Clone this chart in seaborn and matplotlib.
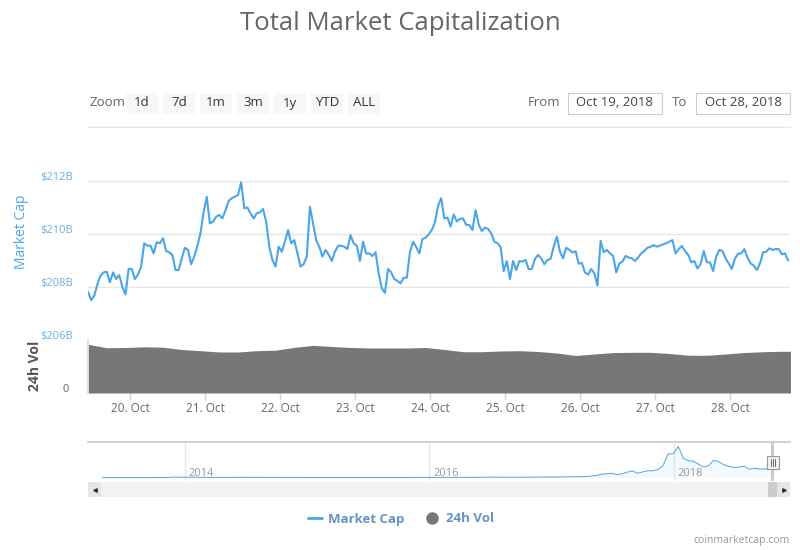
import numpy as np
import pandas as pd
import matplotlib
matplotlib.use("Agg")
import matplotlib.pyplot as plt
import seaborn as sns
from matplotlib.patches import Rectangle
from matplotlib.lines import Line2D
from matplotlib.transforms import ScaledTranslation

# total market cap, $B, hourly from 19 Oct 2018 10:34
market_cap = [
    207.82, 207.50, 207.67, 208.10, 208.43, 208.55, 208.58, 208.18, 208.55, 208.30,
    208.45, 208.00, 207.72, 208.68, 208.68, 208.30, 208.47, 208.77, 209.65, 209.56,
    209.56, 209.27, 209.69, 209.65, 209.84, 209.36, 209.31, 209.21, 208.64, 208.64,
    209.08, 209.48, 209.40, 208.86, 209.15, 209.56, 210.03, 210.84, 211.40, 210.40,
    210.47, 210.65, 210.72, 210.59, 210.90, 211.25, 211.35, 211.41, 211.47, 211.95,
    210.97, 211.00, 210.78, 210.59, 210.78, 210.82, 210.94, 210.47, 209.52, 209.02,
    208.77, 209.52, 209.33, 209.71, 210.15, 209.65, 209.77, 209.27, 208.77, 208.86,
    209.15, 211.03, 210.40, 209.77, 209.52, 209.15, 209.40, 209.22, 208.98, 209.33,
    209.55, 209.56, 209.52, 209.43, 209.96, 209.65, 209.56, 208.98, 209.71, 209.26,
    209.27, 209.17, 209.31, 208.52, 207.95, 207.78, 208.68, 208.55, 208.30, 208.23,
    208.14, 208.35, 208.35, 209.31, 209.71, 209.51, 209.27, 209.81, 209.86, 209.99,
    210.15, 210.44, 211.07, 211.35, 210.59, 210.62, 210.28, 210.74, 210.47, 210.57,
    210.59, 210.34, 210.34, 210.15, 210.90, 210.36, 210.11, 210.24, 210.19, 210.03,
    209.71, 209.65, 209.52, 208.60, 208.98, 208.30, 208.98, 208.64, 208.98, 208.96,
    209.02, 208.67, 208.68, 209.06, 209.21, 209.08, 208.86, 209.02, 209.06, 209.52,
    209.90, 209.33, 209.08, 209.48, 209.40, 209.30, 209.35, 208.88, 208.91, 208.55,
    208.47, 208.68, 208.52, 208.05, 209.74, 209.31, 209.40, 209.27, 209.18, 208.55,
    208.89, 208.96, 209.17, 209.11, 209.08, 208.98, 209.11, 209.27, 209.36, 209.48,
    209.52, 209.58, 209.52, 209.56, 209.61, 209.65, 209.71, 209.77, 209.27, 209.43,
    209.55, 209.35, 209.22, 208.93, 208.98, 208.70, 208.86, 209.36, 208.93, 208.93,
    208.60, 209.15, 209.40, 209.36, 209.08, 208.89, 208.68, 209.08, 209.26, 209.27,
    209.43, 209.11, 208.89, 208.81, 208.64, 208.89, 209.31, 209.33, 209.46, 209.40,
    209.43, 209.43, 209.23, 209.27, 209.00,
]
# 24h volume, $B, every 6 hours from the same start
volume_24h = [
    11.95, 11.09, 11.16, 11.33, 11.23, 10.67, 10.38, 10.06, 10.06, 10.38,
    10.50, 11.19, 11.68, 11.41, 11.16, 11.04, 11.04, 11.04, 11.16, 10.67,
    10.13, 10.13, 10.30, 10.38, 10.18, 9.81, 9.20, 9.57, 9.91, 9.98,
    9.98, 9.69, 9.27, 9.25, 9.57, 9.93, 10.13, 10.23, 10.23,
]
# navigator history, $B: month ends Apr 2013 - Dec 2016
nav_early = [
    1.6, 1.5, 1.2, 1.3, 1.6, 1.7, 2.6, 13.0, 10.0,
    10.7, 7.6, 6.7, 6.0, 8.5, 8.4, 7.9, 6.9, 5.5, 4.9, 5.4, 4.4,
    3.4, 3.6, 3.5, 3.5, 3.5, 3.8, 4.5, 3.7, 3.7, 4.8, 5.7, 7.0,
    6.9, 7.5, 7.9, 8.2, 9.9, 11.6, 11.4, 10.0, 10.6, 11.8, 13.0, 17.7,
]
# semi-monthly Jan 2017 - Oct 2018
nav_recent = [
    17, 19, 20, 22, 23, 25, 30, 39, 55, 90, 95, 110,
    80, 95, 140, 170, 110, 145, 175, 175, 210, 300, 600, 610,
    790, 480, 430, 420, 350, 270, 300, 440, 410, 330,
    290, 260, 270, 290, 215, 240, 215, 225, 215, 205,
]
cap_ticks = [206, 208, 210, 212]
cap_tick_labels = ["$206B", "$208B", "$210B", "$212B"]
day_labels = ["20. Oct", "21. Oct", "22. Oct", "23. Oct", "24. Oct",
              "25. Oct", "26. Oct", "27. Oct", "28. Oct"]
zoom_buttons = ["1d", "7d", "1m", "3m", "1y", "YTD", "ALL"]
date_from, date_to = "Oct 19, 2018", "Oct 28, 2018"
nav_years = ["2014", "2016", "2018"]
legend_labels = ["Market Cap", "24h Vol"]


def freq(new, old):
    try:
        pd.date_range("2017-01-15", periods=2, freq=new)
        return new
    except Exception:
        return old


start = pd.Timestamp("2018-10-19 10:34")
end = start + pd.Timedelta(hours=224.6)
df_cap = pd.DataFrame({"time": pd.date_range(start, periods=len(market_cap), freq="h"),
                       "cap": market_cap})
df_vol = pd.DataFrame({"time": pd.date_range(start, periods=len(volume_24h), freq="6h"),
                       "vol": volume_24h})
nav_time = pd.date_range("2013-04-30", periods=len(nav_early), freq=freq("ME", "M")).append(
    pd.date_range("2017-01-15", periods=len(nav_recent), freq=freq("SME", "SM")))
df_nav = pd.DataFrame({"time": nav_time, "cap": nav_early + nav_recent})

sns.set_theme(style="white")
plt.rcParams["font.family"] = ["Open Sans", "DejaVu Sans"]

cap_color = "#4aa6e6"
vol_color = "#777777"
grid_color = "#e6e6e6"

W, H = 800, 550
fig = plt.figure(figsize=(8, 5.5), dpi=100)
fig.patch.set_facecolor("white")


def fx(px):
    return px / W


def fy(py):
    return 1 - py / H


def rect(x0, y0, x1, y1):
    return [fx(x0), fy(y1), (x1 - x0) / W, (y1 - y0) / H]


# title and range selector
fig.text(0.5, fy(23), "Total Market Capitalization", ha="center", va="center",
         fontsize=18.5, color="#666666")
fig.text(fx(89), fy(103), "Zoom", ha="left", va="center", fontsize=9.5, color="#666666")
for i, b in enumerate(zoom_buttons):
    x0 = 126 + i * 37
    fig.patches.append(Rectangle((fx(x0), fy(114)), 32 / W, 21 / H, transform=fig.transFigure,
                                 facecolor="#f7f7f7", edgecolor="none"))
    fig.text(fx(x0 + 16), fy(103), b, ha="center", va="center", fontsize=9.5, color="#333333")
fig.text(fx(544), fy(103), "From", ha="center", va="center", fontsize=9.5, color="#666666")
fig.text(fx(680), fy(103), "To", ha="center", va="center", fontsize=9.5, color="#666666")
for x0, txt in [(567.5, date_from), (696, date_to)]:
    fig.patches.append(Rectangle((fx(x0), fy(114)), 94 / W, 21 / H, transform=fig.transFigure,
                                 facecolor="white", edgecolor="#cccccc", lw=0.8))
    fig.text(fx(x0 + 47), fy(103), txt, ha="center", va="center", fontsize=9.5, color="#444444")
fig.add_artist(Line2D([fx(88), fx(790)], [fy(127), fy(127)], transform=fig.transFigure,
                      color=grid_color, lw=1))

# market cap panel
ax_cap = fig.add_axes(rect(88, 181, 790, 340))
sns.lineplot(data=df_cap, x="time", y="cap", ax=ax_cap, color=cap_color, linewidth=1.5)
ax_cap.set_xlim(start, end)
ax_cap.set_ylim(206, 212)
ax_cap.set_yticks(cap_ticks)
ax_cap.set_yticklabels(cap_tick_labels)
ax_cap.set_xticks([])
ax_cap.set_xlabel("")
ax_cap.set_ylabel("")
ax_cap.grid(axis="y", color=grid_color, lw=1)
ax_cap.tick_params(axis="y", length=0, pad=11, labelsize=8, labelcolor="#6aaee0")
for s in ax_cap.spines.values():
    s.set_visible(False)
up = ScaledTranslation(0, 0.05, fig.dpi_scale_trans)
for lab in ax_cap.get_yticklabels():
    lab.set_transform(lab.get_transform() + up)

# volume panel
ax_vol = fig.add_axes(rect(88, 340, 790, 393))
ax_vol.fill_between(df_vol["time"], 0, df_vol["vol"], color=vol_color, lw=0)
ax_vol.set_xlim(start, end)
ax_vol.set_ylim(0, 13)
ax_vol.set_yticks([0])
ax_vol.set_yticklabels(["0"])
ax_vol.set_xticks(pd.date_range("2018-10-20", periods=len(day_labels), freq="D"))
ax_vol.set_xticklabels(day_labels)
ax_vol.tick_params(axis="y", length=0, pad=14, labelsize=8, labelcolor="#666666")
ax_vol.tick_params(axis="x", length=5, width=1, color="#ccd6eb", direction="out",
                   pad=1.5, labelsize=8.5, labelcolor="#666666", bottom=True)
for lab in ax_vol.get_yticklabels():
    lab.set_transform(lab.get_transform() + up)
for k, s in ax_vol.spines.items():
    s.set_visible(k == "left")
ax_vol.spines["left"].set_color("#dddddd")

fig.text(fx(22), fy(232), "Market Cap", rotation=90, ha="center", va="center",
         fontsize=10, color="#4aa6e6")
fig.text(fx(35), fy(366), "24h Vol", rotation=90, ha="center", va="center",
         fontsize=10, color="#555555", fontweight="bold")

# navigator
ax_nav = fig.add_axes(rect(88, 442, 790, 481))
px_day = 122.3 / 365.25
nav_left = pd.Timestamp("2014-01-01") - pd.Timedelta(days=97 / px_day)
nav_right = pd.Timestamp("2018-01-01") + pd.Timedelta(days=116.5 / px_day)
sns.lineplot(data=df_nav, x="time", y="cap", ax=ax_nav, color=cap_color, linewidth=0.7)
ax_nav.fill_between(df_nav["time"], 0, df_nav["cap"], color=cap_color, alpha=0.06, lw=0)
ax_nav.set_xlim(nav_left, nav_right)
ax_nav.set_ylim(-85, 905)
year_dates = [pd.Timestamp(y + "-01-01") for y in nav_years]
ax_nav.set_xticks(year_dates)
ax_nav.set_yticks([])
ax_nav.tick_params(axis="x", length=0, labelbottom=False)
ax_nav.grid(axis="x", color=grid_color, lw=1)
ax_nav.set_xlabel("")
ax_nav.set_ylabel("")
for d, y in zip(year_dates, nav_years):
    ax_nav.annotate(y, xy=(d, 0), xycoords=("data", "axes fraction"), xytext=(4, 7),
                    textcoords="offset pixels", ha="left", va="center",
                    fontsize=8, color="#999999")
ax_nav.axvspan(start, end, color="#c6cbd6", lw=0)
for k, s in ax_nav.spines.items():
    s.set_visible(k == "top")
ax_nav.spines["top"].set_color("#cccccc")

# scrollbar and handle
def box(x0, y0, x1, y1, fc, ec="none", lw=0.8):
    fig.patches.append(Rectangle((fx(x0), fy(y1)), (x1 - x0) / W, (y1 - y0) / H,
                                 transform=fig.transFigure, facecolor=fc, edgecolor=ec, lw=lw))


box(88, 482, 790, 497, "#f2f2f2")
box(88, 482, 101, 497, "#e6e6e6")
box(777, 482, 790, 497, "#e6e6e6")
box(768, 482, 777, 497, "#cccccc")
for xm, mk in [(94.5, "<"), (783.5, ">")]:
    fig.add_artist(Line2D([fx(xm)], [fy(489.5)], transform=fig.transFigure, marker=mk,
                          ms=2.5, color="#333333", ls=""))
box(767, 456, 779, 469, "#f2f2f2", ec="#999999")
for xl in [771, 773, 775]:
    fig.add_artist(Line2D([fx(xl), fx(xl)], [fy(459), fy(466)], transform=fig.transFigure,
                          color="#666666", lw=0.7))

# legend
handles = [Line2D([], [], color=cap_color, lw=2),
           Line2D([], [], color=vol_color, marker="o", ls="", ms=8)]
fig.legend(handles=handles, labels=legend_labels, loc="center",
           bbox_to_anchor=(fx(401), fy(519)), ncol=2, frameon=False,
           prop={"weight": "bold", "size": 9.5}, labelcolor="#6593c8",
           handlelength=1.0, handletextpad=0.5, columnspacing=1.6)

fig.text(fx(790), fy(541), "coinmarketcap.com", ha="right", va="center",
         fontsize=7.5, color="#999999")

fig.savefig("out.png", dpi=100)
